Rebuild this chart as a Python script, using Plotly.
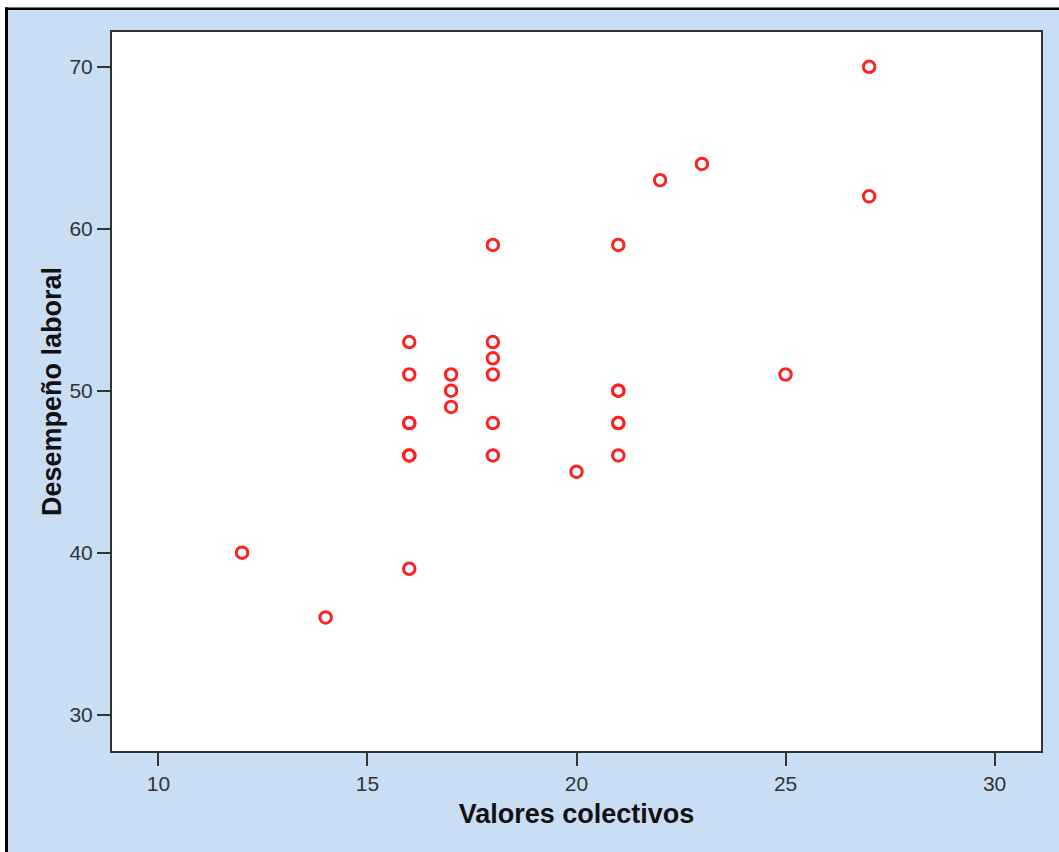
import plotly.graph_objects as go

# Data
valores_colectivos = [12, 14, 16, 16, 16, 16, 16, 16, 16, 17, 17, 17,
                      18, 18, 18, 18, 18, 18, 20, 21, 21, 21, 21, 21, 21,
                      22, 23, 25, 27, 27]
desempeno_laboral = [40, 36, 53, 51, 48, 48, 46, 46, 39, 51, 50, 49,
                     59, 53, 52, 51, 48, 46, 45, 59, 50, 50, 48, 48, 46,
                     63, 64, 51, 70, 62]
x_ticks = [10, 15, 20, 25, 30]
y_ticks = [30, 40, 50, 60, 70]

W, H = 1059, 852
ML, MR, MT, MB = 112, 18, 32, 101
PW, PH = W - ML - MR, H - MT - MB

def px(x):
    return (x - ML) / PW

def py(y):
    return (H - MB - y) / PH

BLUE = "#C9DEF5"

fig = go.Figure()
fig.add_trace(go.Scatter(
    x=valores_colectivos, y=desempeno_laboral, mode="markers",
    marker=dict(symbol="circle-open", size=11.5, color="#FF2020",
                line=dict(width=3, color="#FF2020")),
    showlegend=False, hoverinfo="x+y",
))

shapes = [
    dict(type="rect", xref="paper", yref="paper", x0=px(-5), x1=px(W + 5),
         y0=py(7.5), y1=py(-5), fillcolor="white", line=dict(width=0)),
    dict(type="rect", xref="paper", yref="paper", x0=px(-5), x1=px(5),
         y0=py(H + 5), y1=py(-5), fillcolor="white", line=dict(width=0)),
    dict(type="rect", xref="paper", yref="paper", x0=px(5), x1=px(W + 5),
         y0=py(10), y1=py(7.5), fillcolor="black", line=dict(width=0)),
    dict(type="rect", xref="paper", yref="paper", x0=px(5), x1=px(8),
         y0=py(H + 5), y1=py(7.5), fillcolor="black", line=dict(width=0)),
]

tickfont = dict(family="Liberation Sans, Arial, sans-serif", size=21, color="#333333")
titlefont = dict(family="Liberation Sans, Arial, sans-serif", size=27, color="#111111",
                 weight="bold")

fig.update_layout(
    width=W, height=H,
    margin=dict(l=ML, r=MR, t=MT, b=MB),
    paper_bgcolor=BLUE, plot_bgcolor="white",
    shapes=shapes,
    xaxis=dict(range=[8.89, 31.11], tickvals=x_ticks, ticks="outside", ticklen=13,
               tickwidth=2, tickcolor="#333333", showgrid=False, zeroline=False,
               showline=True, linewidth=2, linecolor="#333333", mirror=True,
               tickfont=tickfont,
               title=dict(text="Valores colectivos", font=titlefont, standoff=10)),
    yaxis=dict(range=[27.75, 72.15], tickvals=y_ticks, ticks="outside", ticklen=13,
               tickwidth=2, tickcolor="#333333", showgrid=False, zeroline=False,
               showline=True, linewidth=2, linecolor="#333333", mirror=True,
               tickfont=tickfont,
               title=dict(text="Desempeño laboral", font=titlefont, standoff=0)),
)

fig.write_html("out.html")
